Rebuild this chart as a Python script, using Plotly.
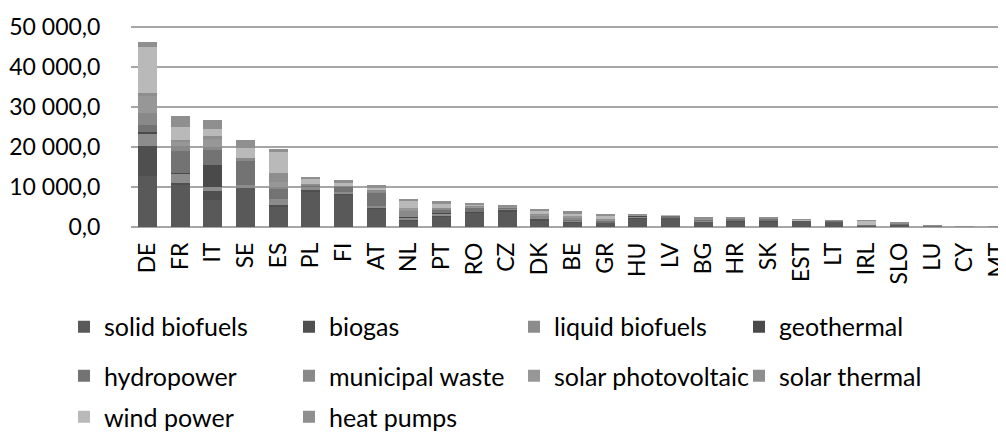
import plotly.graph_objects as go

countries = ["DE","FR","IT","SE","ES","PL","FI","AT","NL","PT","RO","CZ","DK","BE",
             "GR","HU","LV","BG","HR","SK","EST","LT","IRL","SLO","LU","CY","MT"]

solid_biofuels   = [12660,10660,6830,9800,5150,8900,8220,4660,1580,2700,3500,3700,1600,1000,1000,2150,2350,1450,1450,1400,1650,1300,250,550,100,20,1]
biogas           = [7500,300,2170,150,250,250,100,250,250,90,20,600,400,230,80,100,80,20,50,140,15,40,50,25,20,10,5]
liquid_biofuels  = [3330,2370,1000,450,1650,1000,410,430,550,700,200,300,250,500,150,300,50,150,30,150,0,60,160,40,120,20,10]
geothermal       = [250,250,5400,0,20,20,0,20,130,20,20,0,0,0,0,200,0,30,10,10,0,0,0,0,0,0,0]
hydropower       = [1670,5420,3800,6080,2400,220,1400,3310,5,900,1200,170,2,30,350,20,370,250,480,390,2,100,60,350,10,0,0]
municipal_waste  = [3080,1170,780,830,600,200,350,150,1400,200,20,100,700,700,0,130,0,0,0,40,40,40,60,0,30,0,0]
solar_pv         = [4250,1100,2100,20,1100,15,5,130,900,100,150,200,80,300,350,120,0,120,5,50,0,6,1,25,10,30,20]
solar_thermal    = [750,400,570,20,2330,150,5,180,25,90,20,0,100,50,250,20,0,70,20,0,0,0,20,0,0,80,10]
wind_power       = [11500,3330,1920,2500,5160,1450,400,600,1860,1050,600,50,1100,550,450,60,10,120,100,0,60,110,900,0,20,20,0]
heat_pumps       = [1250,2750,2250,1830,750,250,800,860,300,750,30,150,200,600,700,150,0,350,180,80,60,90,170,30,20,70,40]

series_names = ["solid biofuels","biogas","liquid biofuels","geothermal","hydropower",
                "municipal waste","solar photovoltaic","solar thermal","wind power","heat pumps"]
series_values = [solid_biofuels, biogas, liquid_biofuels, geothermal, hydropower,
                 municipal_waste, solar_pv, solar_thermal, wind_power, heat_pumps]
series_colors = ["#595959","#4f4f4f","#8c8c8c","#4a4a4a","#737373",
                 "#898989","#979797","#8e8e8e","#b9b9b9","#8f8f8f"]

y_tickvals = [0,10000,20000,30000,40000,50000]
y_ticktext = ["0,0","10 000,0","20 000,0","30 000,0","40 000,0","50 000,0"]

FONT = "Lato"
GRID = "#a6a6a6"
legend_groups = ["legend"]*4 + ["legend2"]*4 + ["legend3"]*2

fig = go.Figure()
for name, vals, col, lg in zip(series_names, series_values, series_colors, legend_groups):
    fig.add_trace(go.Bar(x=countries, y=vals, name=name, marker_color=col,
                         marker_line_width=0, legend=lg))

# top gridline (plotly drops grid lines very close to the plot edge)
fig.add_shape(type="line", xref="paper", x0=0, x1=1, yref="y",
              y0=y_tickvals[-1], y1=y_tickvals[-1],
              line=dict(color=GRID, width=1.5), layer="below")

leg_common = dict(orientation="h", xanchor="left", yanchor="middle",
                  font=dict(family=FONT, size=25, color="#000000"),
                  entrywidth=180, entrywidthmode="pixels",
                  bgcolor="rgba(0,0,0,0)", borderwidth=0, traceorder="normal")

fig.update_layout(
    width=998, height=426,
    margin=dict(l=123, r=0, t=16, b=207, autoexpand=False),
    plot_bgcolor="white", paper_bgcolor="white",
    barmode="stack", bargap=0.42,
    font=dict(family=FONT, size=23, color="#000000"),
    xaxis=dict(range=[-0.5, 26.26], tickangle=-90, showgrid=False,
               tickfont=dict(family=FONT, size=23), ticklabelstandoff=10,
               showline=False, zeroline=False, automargin=False),
    yaxis=dict(range=[0, 50750], tickvals=y_tickvals, ticktext=y_ticktext,
               showgrid=True, gridcolor=GRID, gridwidth=1.5,
               zeroline=True, zerolinecolor=GRID, zerolinewidth=1.5,
               ticks="outside", ticklen=25, tickcolor="rgba(0,0,0,0)",
               tickfont=dict(family=FONT, size=23), automargin=False),
    legend=dict(x=-0.0766, y=-0.4926, **leg_common),
    legend2=dict(x=-0.0766, y=-0.734, **leg_common),
    legend3=dict(x=-0.0766, y=-0.936, **leg_common),
)

fig.write_html("out.html")
